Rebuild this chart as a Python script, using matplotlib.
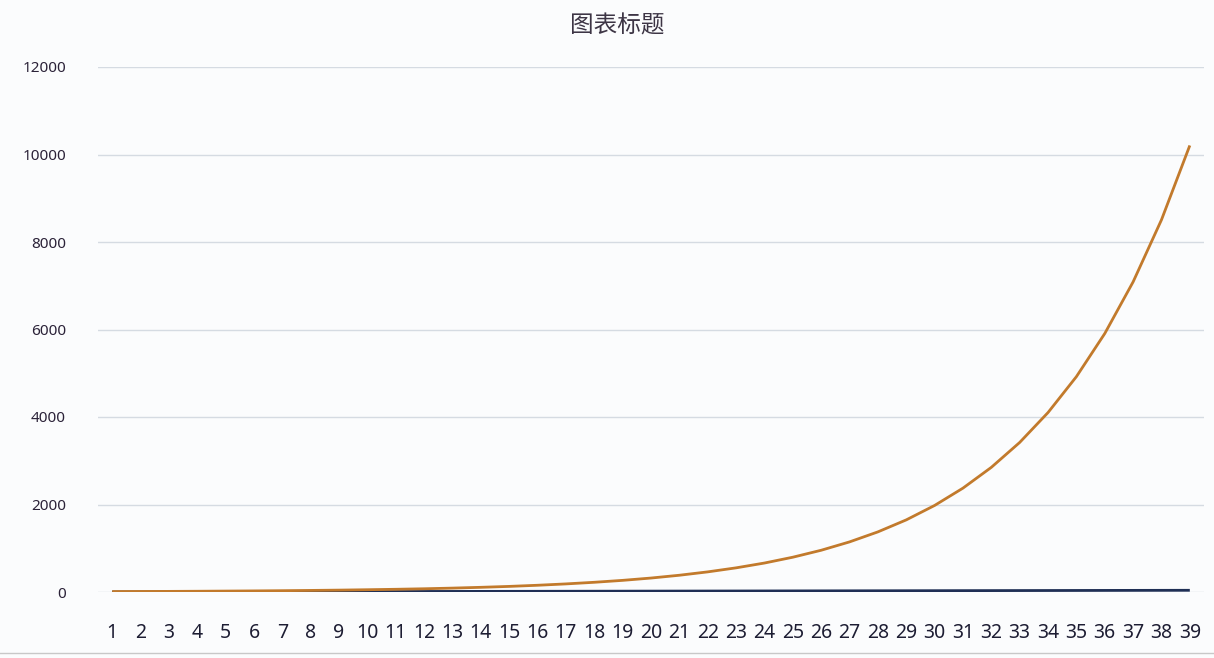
import matplotlib
matplotlib.use("Agg")
import matplotlib.pyplot as plt
from matplotlib.lines import Line2D

plt.rcParams['font.family'] = ['Noto Sans CJK SC', 'DejaVu Sans']

# categories 1..39 on the x axis
categories = [str(i) for i in range(1, 40)]

# orange series (grows ~20% per step)
orange_vals = [10, 12, 14, 17, 21, 25, 30, 36, 43, 52,
               62, 74, 89, 107, 128, 154, 185, 222, 266, 319,
               383, 460, 552, 662, 795, 954, 1145, 1374, 1648, 1978,
               2374, 2849, 3418, 4102, 4922, 5907, 7088, 8506, 10207]

# navy series, hugging zero
navy_vals = list(range(1, 40))

y_ticks = [0, 2000, 4000, 6000, 8000, 10000, 12000]

fig = plt.figure(figsize=(12.14, 6.58), dpi=100)
ax = fig.add_axes([98 / 1214, 1 - 592 / 658, 1106 / 1214, 525 / 658])
ax.patch.set_visible(False)

x = list(range(1, len(categories) + 1))
ax.plot(x, navy_vals, color="#1f2f55", lw=2.0, solid_capstyle="butt")
ax.plot(x, orange_vals, color="#c27a2c", lw=2.0, solid_capstyle="butt")

ax.set_xlim(0.5, 39.5)
ax.set_ylim(0, 12000)
ax.set_yticks(y_ticks)
ax.set_yticklabels([str(v) for v in y_ticks], fontsize=11, color="#2b2238",
                   family=['Noto Sans', 'DejaVu Sans'])
ax.set_xticks(x)
ax.set_xticklabels(categories, fontsize=14, color="#1d1d33",
                   family=['Noto Sans', 'DejaVu Sans'])
ax.tick_params(axis="y", length=0, pad=23)
ax.tick_params(axis="x", length=0, pad=22)

ax.grid(axis="y", color="#d5dbe2", lw=1)
ax.set_axisbelow(True)
for s in ax.spines.values():
    s.set_visible(False)

fig.text(617 / 1214, 1 - 26 / 658, "图表标题", ha="center", va="center",
         fontsize=17, color="#3d3545", fontweight="medium")

# light frame line at the bottom of the chart area
fig.add_artist(Line2D([0.0, 1.0], [1 - 653 / 658, 1 - 653 / 658],
                      transform=fig.transFigure, color="#c8c8c8", lw=1))

fig.savefig("out.png", dpi=100, facecolor="#fbfcfd")
